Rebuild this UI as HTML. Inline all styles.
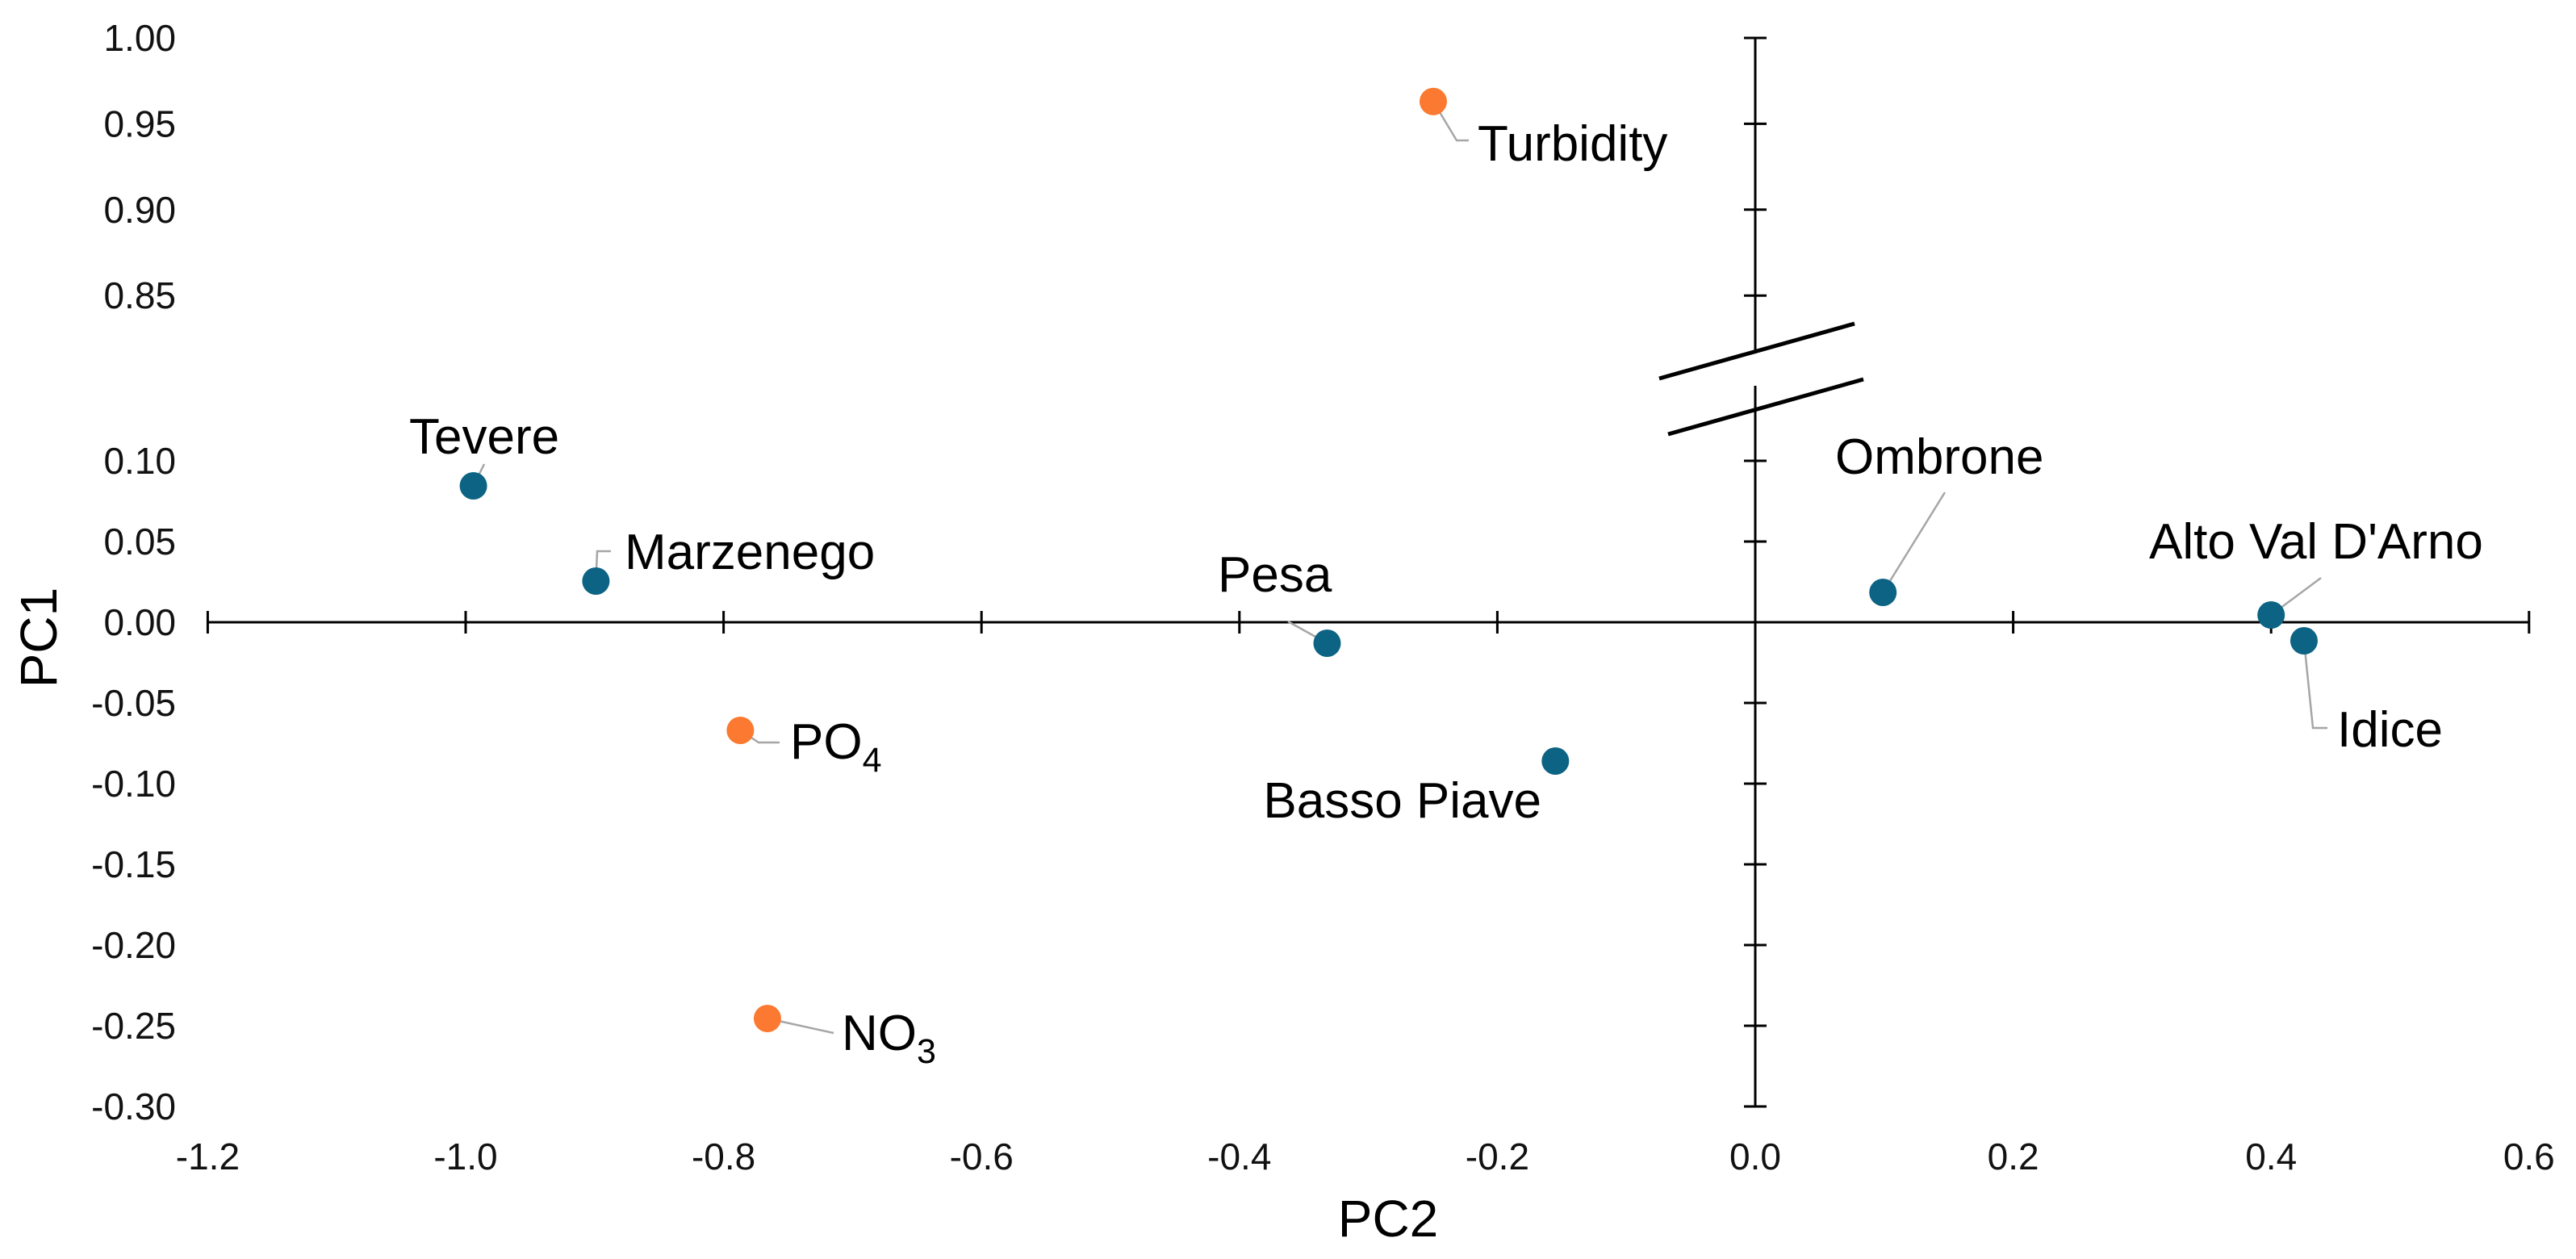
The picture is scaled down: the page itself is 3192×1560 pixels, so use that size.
<!DOCTYPE html>
<html><head><meta charset="utf-8"><style>
html,body{margin:0;padding:0;background:#fff;}
svg{display:block;font-family:"Liberation Sans",sans-serif;}
</style></head><body>
<svg id="chart" width="3192" height="1560" viewBox="0 0 3192 1560" xmlns="http://www.w3.org/2000/svg">
<rect width="3192" height="1560" fill="#fff"/>
<g id="axes"></g>
<g id="marks"></g>
</svg>
<script>
const names = ["Tevere","Marzenego","PO","NO","Pesa","Basso Piave","Ombrone","Alto Val D'Arno","Idice","Turbidity"];
const subs = ["","","4","3","","","","","",""];
const pc2 = [-0.994,-0.899,-0.787,-0.766,-0.332,-0.155,0.099,0.400,0.4255,-0.2497];
const pc1 = [0.0845,0.0255,-0.067,-0.2455,-0.013,-0.086,0.0185,0.0045,-0.0115,0.963];
const kinds = ["site","site","var","var","site","site","site","site","site","var"];
const xTicks = [-1.2,-1.0,-0.8,-0.6,-0.4,-0.2,0.0,0.2,0.4,0.6];
const yTicksLow = [0.10,0.05,0.00,-0.05,-0.10,-0.15,-0.20,-0.25,-0.30];
const yTicksHigh = [1.00,0.95,0.90,0.85];

const NS="http://www.w3.org/2000/svg";
function X(v){return 2175+v*1598;}
function Y(v){return v>0.5 ? 47+(1-v)*2128 : 771-v*2000;}
function mk(tag,attrs,parent){const e=document.createElementNS(NS,tag);for(const k in attrs)e.setAttribute(k,attrs[k]);parent.appendChild(e);return e;}
const axes=document.getElementById('axes'), marks=document.getElementById('marks');
const S={stroke:"#000","stroke-width":3};

let l=mk('line',{x1:X(-1.2),x2:X(0.6),y1:Y(0),y2:Y(0),...S},axes);


l=mk('line',{x1:X(0),x2:X(0),y1:47,y2:438,...S},axes);


l=mk('line',{x1:X(0),x2:X(0),y1:478,y2:Y(-0.30),...S},axes);


l=mk('line',{x1:2056,y1:469,x2:2298,y2:401,stroke:"#000","stroke-width":5},axes);


l=mk('line',{x1:2067,y1:538,x2:2309,y2:470,stroke:"#000","stroke-width":5},axes);



xTicks.forEach(v=>{
  if(v!==0){const t=mk('line',{x1:X(v),x2:X(v),y1:Y(0)-14,y2:Y(0)+14,...S},axes);
  
  }
  const tx=mk('text',{x:X(v),y:1449,"font-size":46,"text-anchor":"middle",fill:"#111"},axes);
  tx.textContent=v.toFixed(1);
  
  
});
yTicksLow.concat(yTicksHigh).forEach(v=>{
  if(v!==0){const t=mk('line',{x1:X(0)-14,x2:X(0)+14,y1:Y(v),y2:Y(v),...S},axes);
  
  }
  const tx=mk('text',{x:218,y:Y(v)+16,"font-size":46,"text-anchor":"end",fill:"#111"},axes);
  tx.textContent=v.toFixed(2);
  
  
});
let t=mk('text',{x:1720,y:1532,"font-size":64,"text-anchor":"middle",fill:"#000"},axes);
t.textContent="PC2";


t=mk('text',{x:70,y:790,"font-size":64,"text-anchor":"middle",fill:"#000",transform:"rotate(-90 70 790)"},axes);
t.textContent="PC1";



const lab = {
 "Tevere":[507,562,"start",[[600,575]]],
 "Marzenego":[774,705,"start",[[740,683],[757,683]]],
 "PO":[979,940,"start",[[940,920],[966,920]]],
 "NO":[1043,1301,"start",[[1033,1280]]],
 "Pesa":[1509,733,"start",[[1596,770]]],
 "Basso Piave":[1910,1013,"end",[]],
 "Ombrone":[2274,587,"start",[[2410,610]]],
 "Alto Val D'Arno":[2663,692,"start",[[2876,716]]],
 "Idice":[2896,925,"start",[[2866,902],[2884,902]]],
 "Turbidity":[1831,199,"start",[[1805,174],[1820,174]]]
};
names.forEach((n,i)=>{
  const cx=X(pc2[i]), cy=Y(pc1[i]);
  const L=lab[n];
  if(L[3].length){
    const pts=[[cx,cy]].concat(L[3]).map(p=>p.join(',')).join(' ');
    const pl=mk('polyline',{points:pts,fill:"none",stroke:"#a6a6a6","stroke-width":2.5},marks);
    
    
  }
  const c=mk('circle',{cx:cx,cy:cy,r:17,fill:kinds[i]==="site"?"#0c6384":"#fb7930"},marks);
  
  
  const tx=mk('text',{x:L[0],y:L[1],"font-size":62,"text-anchor":L[2],fill:"#000"},marks);
  tx.textContent=n;
  if(subs[i]){const ts=mk('tspan',{dy:16,"font-size":43},tx);ts.textContent=subs[i];}
  
  
});
</script>
</body></html>
